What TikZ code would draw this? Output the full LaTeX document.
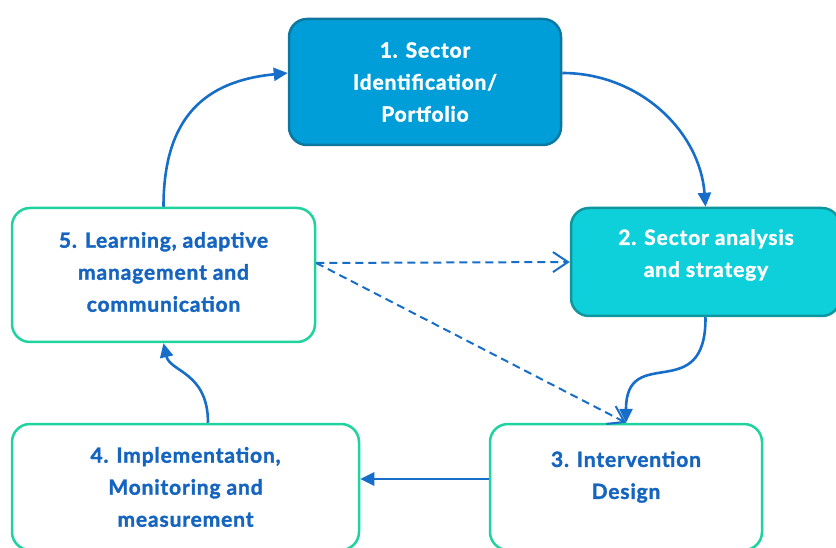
\documentclass[tikz,border=0pt]{standalone}
\usepackage{fontspec}
\setmainfont{Lato}[BoldFeatures={FakeBold=1.6, LetterSpace=4}]
\usepackage{xcolor}
\usepackage{tikz}
\usetikzlibrary{positioning, arrows.meta}

\definecolor{portfoliofill}{HTML}{009ED8}
\definecolor{portfolioline}{HTML}{0C78A0}
\definecolor{analysisfill}{HTML}{0ED0DA}
\definecolor{analysisline}{HTML}{10969F}
\definecolor{stepgreen}{HTML}{1FD39E}
\definecolor{steptextblue}{HTML}{1565C0}
\definecolor{flowblue}{HTML}{176EC8}

\begin{document}
\begin{tikzpicture}[x=1pt, y=1pt,
        stepbox/.style={draw, line width=2.5pt, rounded corners=18pt, align=center, inner sep=0pt,
            font=\fontsize{21}{32}\selectfont\bfseries},
        whitebox/.style={stepbox, draw=stepgreen, fill=white, text=steptextblue},
        steplabel/.style={align=center, text=steptextblue, font=\fontsize{21}{32}\selectfont\bfseries},
        flow/.style={draw=flowblue, line width=2.6pt, -{Triangle[length=14pt,width=13pt]}},
        shortcut/.style={draw=flowblue, line width=2pt, dash pattern=on 8pt off 5pt,
            -{Straight Barb[length=15pt,width=20pt,line width=2pt]}}]
        \useasboundingbox (0,0) rectangle (836,547);
        \coordinate (P) at (425,465);
        \coordinate (A) at (705.5,285);
        \coordinate (D) at (626,60);
        \coordinate (M) at (185.5,60);
        \coordinate (L) at (163.5,272);
        \node[stepbox, draw=portfolioline, fill=portfoliofill, text=white,
            minimum width=272, minimum height=126] (portfolio) at (P) {1. Sector\\Identification/\\Portfolio};
        \node[stepbox, draw=analysisline, fill=analysisfill, text=white,
            minimum width=269, minimum height=108] (analysis) at (A) {};
        \node[steplabel, text=white] (analysistext) at (706,292) {2. Sector analysis\\and strategy};
        \node[whitebox, minimum width=272, minimum height=126] (design) at (D) {};
        \node[steplabel] (designtext) at (626,70) {3. Intervention\\Design};
        \node[whitebox, minimum width=347, minimum height=126] (implementation) at (M)
            {4. Implementation,\\Monitoring and\\measurement};
        \node[whitebox, minimum width=303, minimum height=134] (learning) at (L) {};
        \node[steplabel] (learningtext) at (163.5,275) {5. Learning, adaptive\\management and\\communication};
        \draw[flow] (learning.north) .. controls (163.5,430) and (205,466) .. ([yshift=9]portfolio.west);
        \draw[flow] ([yshift=9]portfolio.east) .. controls (640,474) and (700,415) .. (analysis.north);
        \draw[flow] (analysis.south) .. controls (706,140) and (626,205) .. (design.north);
        \draw[flow] ([yshift=8]design.west) -- ([yshift=8]implementation.east);
        \draw[flow] ([xshift=22.5]implementation.north) .. controls (208,175) and (170,175) .. (learning.south);
        \draw[shortcut] ([yshift=12]learning.east) -- (analysis.west);
        \draw[shortcut] ([yshift=12]learning.east) -- (design.north);
\end{tikzpicture}
\end{document}
